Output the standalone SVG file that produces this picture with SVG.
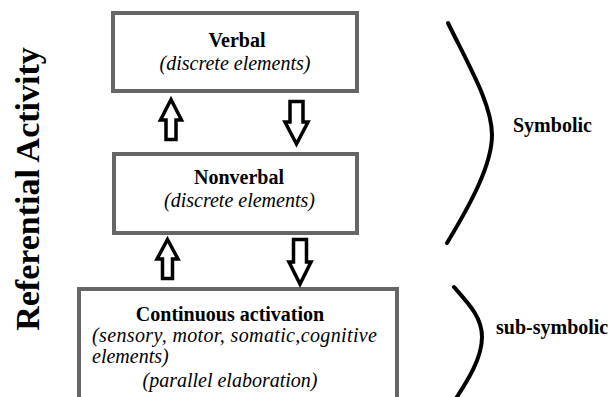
<svg xmlns="http://www.w3.org/2000/svg" width="611" height="397" viewBox="0 0 611 397">
<style>
.box{fill:#fff;stroke:#666;stroke-width:4}
.t{font-family:"Liberation Serif","Times New Roman",serif;font-size:20px;fill:#000}
.b{font-weight:bold}
.i{font-style:italic}
.m{text-anchor:middle}
.arr{fill:#fff;stroke:#000;stroke-width:3.5;stroke-linejoin:miter}
.br{fill:none;stroke:#000;stroke-width:4;stroke-linecap:round}
</style>
<rect width="611" height="397" fill="#fff"/>
<g id="title">
<text class="t b m" transform="translate(39,189) rotate(-90)" style="font-size:34px">Referential Activity</text>
</g>
<g id="verbal">
<rect class="box" x="113" y="13" width="244" height="78"/>
<text class="t b m" x="237" y="47">Verbal</text>
<text class="t i m" x="235" y="70">(discrete elements)</text>
</g>
<g id="nonverbal">
<rect class="box" x="114" y="154" width="243" height="79"/>
<text class="t b m" x="239" y="184">Nonverbal</text>
<text class="t i m" x="239.5" y="207">(discrete elements)</text>
</g>
<g id="continuous">
<rect class="box" x="79" y="289" width="318" height="130"/>
<text class="t b m" x="230" y="321">Continuous activation</text>
<text class="t i" x="92" y="342" textLength="285" lengthAdjust="spacing">(sensory, motor, somatic,cognitive</text>
<text class="t i" x="92" y="363">elements)</text>
<text class="t i m" x="230" y="387">(parallel elaboration)</text>
</g>
<g id="connectors">
<path class="arr" d="M171,99.5 L181.5,120 L176,120 L176,139.5 L166,139.5 L166,120 L160.5,120 Z"/>
<path class="arr" d="M290,101.5 L303,101.5 L303,122 L308,122 L296.5,144 L285,122 L290,122 Z"/>
<path class="arr" d="M167.5,239.5 L178,259 L172.5,259 L172.5,278.5 L162.5,278.5 L162.5,259 L157,259 Z"/>
<path class="arr" d="M293.5,239.5 L306.5,239.5 L306.5,262 L311,262 L300,284 L289,262 L293.5,262 Z"/>
</g>
<g id="symbolic">
<path class="br" d="M448,23 C470,68 492,105 492,135 C492,165 470,205 447,243"/>
<text class="t b" x="513" y="132">Symbolic</text>
</g>
<g id="subsymbolic">
<path class="br" d="M454,287 C470,305 482,318 482,337 C482,358 468,380 455,400"/>
<text class="t b" x="496" y="334">sub-symbolic</text>
</g>
</svg>
